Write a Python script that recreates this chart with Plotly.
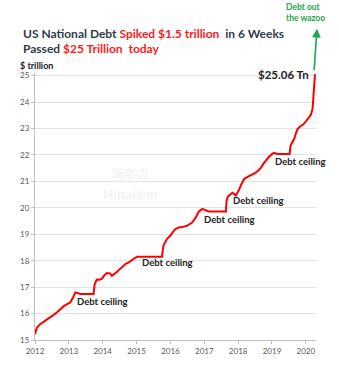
import plotly.graph_objects as go

# ---- data (decimal year, $ trillion) ----
years = [2012.00, 2012.05, 2012.15, 2012.25, 2012.35, 2012.44, 2012.55, 2012.65, 2012.74, 2012.85,
         2012.95, 2013.04, 2013.12, 2013.19, 2013.26, 2013.33, 2013.73, 2013.76, 2013.80, 2013.83,
         2013.90, 2013.98, 2014.05, 2014.12, 2014.22, 2014.27, 2014.35, 2014.45, 2014.52, 2014.60,
         2014.68, 2014.76, 2014.85, 2014.95, 2015.02, 2015.75, 2015.78, 2015.80, 2015.90, 2016.00,
         2016.08, 2016.15, 2016.25, 2016.35, 2016.49, 2016.58, 2016.64, 2016.74, 2016.84, 2016.94,
         2017.02, 2017.09, 2017.13, 2017.64, 2017.66, 2017.70, 2017.76, 2017.83, 2017.93, 2018.02,
         2018.10, 2018.17, 2018.25, 2018.32, 2018.45, 2018.52, 2018.60, 2018.67, 2018.76, 2018.85,
         2018.91, 2019.00, 2019.06, 2019.16, 2019.52, 2019.55, 2019.61, 2019.66, 2019.70, 2019.75,
         2019.85, 2019.92, 2020.00, 2020.10, 2020.15, 2020.20, 2020.23, 2020.27]
debt = [15.22, 15.45, 15.60, 15.68, 15.78, 15.86, 15.95, 16.05, 16.17, 16.28,
        16.36, 16.42, 16.60, 16.80, 16.78, 16.74, 16.74, 17.10, 17.22, 17.29,
        17.28, 17.32, 17.45, 17.53, 17.52, 17.43, 17.50, 17.62, 17.68, 17.78,
        17.88, 17.93, 18.02, 18.10, 18.15, 18.15, 18.45, 18.59, 18.83, 18.95,
        19.10, 19.20, 19.26, 19.27, 19.32, 19.38, 19.44, 19.62, 19.86, 19.96,
        19.93, 19.90, 19.86, 19.86, 20.30, 20.43, 20.50, 20.57, 20.47, 20.66,
        20.90, 21.08, 21.15, 21.20, 21.28, 21.33, 21.42, 21.51, 21.69, 21.84,
        21.93, 22.03, 22.08, 22.04, 22.04, 22.36, 22.48, 22.62, 22.80, 22.97,
        23.10, 23.15, 23.27, 23.42, 23.52, 23.76, 24.49, 25.06]

x_ticks = [2012, 2013, 2014, 2015, 2016, 2017, 2018, 2019, 2020]
y_ticks = [15, 16, 17, 18, 19, 20, 21, 22, 23, 24, 25]

ceiling_labels = ["Debt ceiling"] * 5
ceiling_x = [2014.0, 2015.9, 2017.75, 2018.61, 2019.85]
ceiling_y = [16.46, 17.92, 19.56, 20.26, 21.75]

DARK = "#2f3a4a"
RED = "#ff1a1a"
GREEN = "#1aa84a"
FONT = "Lato"

fig = go.Figure()
fig.add_trace(go.Scatter(x=years, y=debt, mode="lines",
                         line=dict(color="#ff0000", width=2), hoverinfo="skip"))

# paper coords helpers: l=35, plot width 281, t=73, plot height 277
def px(xp):
    return (xp - 35) / 281.0
def py(yp):
    return (350 - yp) / 277.0

ann = []
for t, xx, yy in zip(ceiling_labels, ceiling_x, ceiling_y):
    ann.append(dict(x=xx, y=yy, xref="x", yref="y", text="<b>%s</b>" % t, showarrow=False,
                    font=dict(family=FONT, size=9.5, color="#222222")))

# last value label
ann.append(dict(x=2019.35, y=25.04, xref="x", yref="y", text="<b>$%.2f Tn</b>" % debt[-1],
                showarrow=False, font=dict(family=FONT, size=11.5, color="#222222")))

# green arrow + text
ann.append(dict(x=px(317), y=py(27), xref="paper", yref="paper", ax=-3, ay=43, text="",
                showarrow=True, arrowhead=2, arrowsize=1.1, arrowwidth=1.6, arrowcolor=GREEN))
ann.append(dict(x=px(284), y=py(10), xref="paper", yref="paper", xanchor="left", yanchor="middle",
                text="<b>Debt out<br>the wazoo</b>", showarrow=False, align="left",
                font=dict(family=FONT, size=8.5, color=GREEN)))

ann.append(dict(x=px(21), y=py(32), xref="paper", yref="paper", xanchor="left", yanchor="middle",
                showarrow=False,
                text="<b><span style='color:%s'>US National Debt </span><span style='color:%s'>Spiked $1.5 trillion</span><span style='color:%s'>  in 6 Weeks</span></b>" % (DARK, RED, DARK),
                font=dict(family=FONT, size=12)))
ann.append(dict(x=px(21), y=py(48), xref="paper", yref="paper", xanchor="left", yanchor="middle",
                showarrow=False,
                text="<b><span style='color:%s'>Passed </span><span style='color:%s'>$25 Trillion  today</span></b>" % (DARK, RED),
                font=dict(family=FONT, size=12)))
ann.append(dict(x=px(18), y=py(65), xref="paper", yref="paper", xanchor="left", yanchor="middle",
                showarrow=False, text="<b>$ trillion</b>",
                font=dict(family=FONT, size=9, color="#222222")))

# watermark
ann.append(dict(x=px(130), y=py(177), xref="paper", yref="paper", showarrow=False,
                text="海那边", font=dict(family="Noto Sans CJK SC", size=12, color="#f0f0f0")))
ann.append(dict(x=px(130), y=py(198), xref="paper", yref="paper", showarrow=False,
                text="Hinabian", font=dict(family=FONT, size=14, color="#f0f0f0")))

fig.update_layout(
    width=339, height=368,
    margin=dict(l=35, r=23, t=73, b=18),
    paper_bgcolor="white", plot_bgcolor="white",
    showlegend=False,
    annotations=ann,
    xaxis=dict(range=[2012, 2020.3], tickvals=x_ticks, ticktext=[str(v) for v in x_ticks],
               showgrid=False, zeroline=False, showline=True, linecolor="#bfbfbf", linewidth=1,
               ticks="outside", ticklen=3, tickcolor="#bfbfbf",
               tickfont=dict(family=FONT, size=8, color="#595959")),
    yaxis=dict(range=[15, 25.1], tickvals=y_ticks, ticktext=[str(v) for v in y_ticks],
               showgrid=True, gridcolor="#e3e3e3", gridwidth=1, zeroline=False,
               showline=True, linecolor="#bfbfbf", linewidth=1,
               ticks="outside", ticklen=3, tickcolor="#bfbfbf",
               tickfont=dict(family=FONT, size=8, color="#595959")),
)

fig.write_html("out.html")
